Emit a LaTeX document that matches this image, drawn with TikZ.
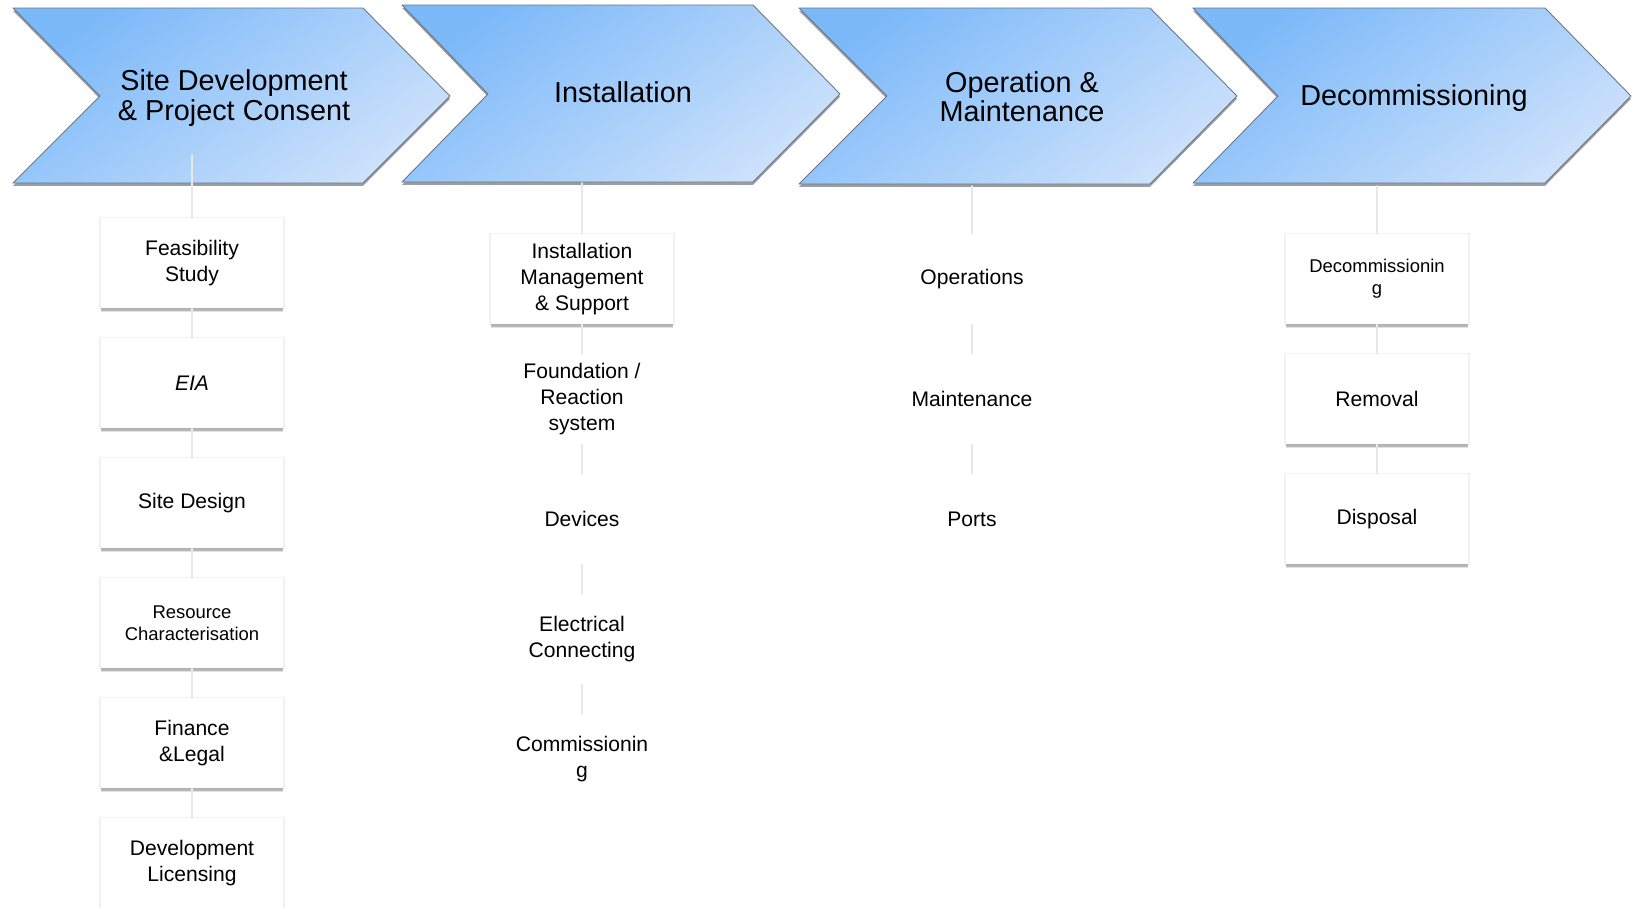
\documentclass[tikz,border=0pt]{standalone}
\usepackage{fontspec}
\setmainfont{Liberation Sans}
\usetikzlibrary{shadows}
\definecolor{chevdark}{RGB}{124,185,249}
\definecolor{chevlight}{RGB}{204,225,251}
\definecolor{chevedge}{RGB}{105,118,135}
\definecolor{linkgray}{RGB}{232,232,232}

\begin{document}
\begin{tikzpicture}[line cap=round,line join=round,x=0.02cm,y=-0.02cm,
	chevron/.style={draw=chevedge,line width=0.5pt,top color=chevdark,bottom color=chevlight,shading angle=35,drop shadow={shadow xshift=0pt,shadow yshift=-1.6pt,opacity=.55,fill=black!70}},
	heading/.style={align=center,inner sep=0pt,font=\fontsize{16.4pt}{16.6pt}\selectfont},
	stagebox/.style={fill=white,minimum width=3.64cm,minimum height=1.8cm,align=center,inner sep=0pt,font=\fontsize{12pt}{14.8pt}\selectfont,
		drop shadow={shadow xshift=0pt,shadow yshift=0pt,shadow scale=1.02,opacity=.09,fill=black!60},
		drop shadow={shadow xshift=0pt,shadow yshift=-2.4pt,opacity=.18,fill=black!60},
		drop shadow={shadow xshift=0pt,shadow yshift=-1.5pt,opacity=.35,fill=black!60}},
	plainbox/.style={minimum width=3.64cm,minimum height=1.8cm,align=center,inner sep=0pt,font=\fontsize{12pt}{14.8pt}\selectfont},
	smalltext/.style={font=\fontsize{10.5pt}{12.3pt}\selectfont},
	link/.style={draw=linkgray,line width=0.9pt}]
		\useasboundingbox (0,0) rectangle (1632,907);
		\draw [chevron] (13,8) -- (363,8) -- (450,96) -- (363,183) -- (13,183) -- (100,96) -- cycle;
		\draw [chevron] (402,5) -- (753,5) -- (840,94) -- (753,182) -- (402,182) -- (488,94) -- cycle;
		\draw [chevron] (799,8) -- (1150,8) -- (1237,96) -- (1150,184) -- (799,184) -- (887,96) -- cycle;
		\draw [chevron] (1193,8) -- (1545,8) -- (1631,96) -- (1545,183) -- (1193,183) -- (1278,96) -- cycle;
		\node [heading] (sdpc) at (234,98) {Site Development\\\& Project Consent};
		\node [heading] (inst) at (623,92.5) {Installation};
		\node [heading] (opm) at (1022,96.5) {Operation \&\\Maintenance};
		\node [heading] (decom) at (1414,98) {Decommissioning};
		\coordinate (sdpc-s) at (192,155);
		\coordinate (inst-s) at (582,183);
		\coordinate (opm-s) at (972,186);
		\coordinate (decom-s) at (1377,186);
		\node [stagebox] (feas) at (192,263) {Feasibility\\Study};
		\node [stagebox] (eia) at (192,383) {\textit{EIA}};
		\node [stagebox] (sdes) at (192,503) {Site Design};
		\node [stagebox,smalltext] (resc) at (192,623) {Resource\\Characterisation};
		\node [stagebox] (finl) at (192,743) {Finance\\\&Legal};
		\node [stagebox] (devl) at (192,863) {Development\\Licensing};
		\node [stagebox] (imgt) at (582,279) {Installation\\Management\\\& Support};
		\node [plainbox] (fnd) at (582,399) {Foundation /\\Reaction\\system};
		\node [plainbox] (dev) at (582,519) {Devices};
		\node [plainbox] (elec) at (582,639) {Electrical\\Connecting};
		\node [plainbox] (comm) at (582,759) {Commissionin\\g};
		\node [plainbox] (ops) at (972,279) {Operations};
		\node [plainbox] (mnt) at (972,399) {Maintenance};
		\node [plainbox] (prt) at (972,519) {Ports};
		\node [stagebox,smalltext] (dcm) at (1377,279) {Decommissionin\\g};
		\node [stagebox] (rem) at (1377,399) {Removal};
		\node [stagebox] (dsp) at (1377,519) {Disposal};
		\draw [link] (sdpc-s) -- (feas);
		\draw [link] (feas) -- (eia);
		\draw [link] (eia) -- (sdes);
		\draw [link] (sdes) -- (resc);
		\draw [link] (resc) -- (finl);
		\draw [link] (finl) -- (devl);
		\draw [link] (inst-s) -- (imgt);
		\draw [link] (imgt) -- (fnd);
		\draw [link] (fnd) -- (dev);
		\draw [link] (dev) -- (elec);
		\draw [link] (elec) -- (comm);
		\draw [link] (opm-s) -- (ops);
		\draw [link] (ops) -- (mnt);
		\draw [link] (mnt) -- (prt);
		\draw [link] (decom-s) -- (dcm);
		\draw [link] (dcm) -- (rem);
		\draw [link] (rem) -- (dsp);
	\end{tikzpicture}
\end{document}
